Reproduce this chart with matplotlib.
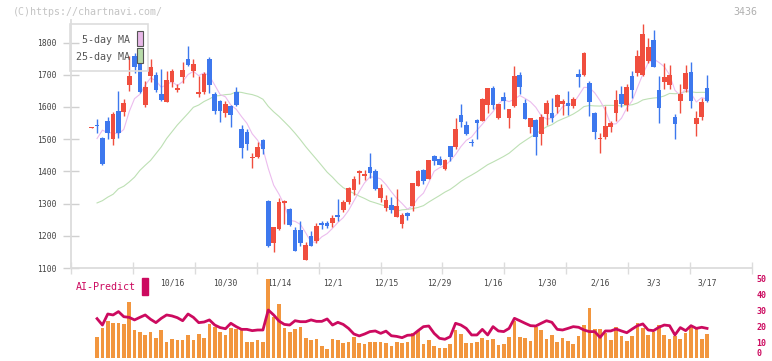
import numpy as np
import pandas as pd
import matplotlib
matplotlib.use("Agg")
import matplotlib.pyplot as plt
from matplotlib.patches import Rectangle

plt.rcParams['font.family'] = ['DejaVu Sans Mono']

# daily candles (index 0 = first day shown)
opens = [1536, 1543, 1505, 1557, 1499, 1587, 1585, 1669, 1759, 1752,
         1606, 1695, 1700, 1641, 1614, 1679, 1653, 1692, 1750, 1713,
         1641, 1648, 1750, 1641, 1617, 1582, 1603, 1646, 1531, 1521,
         1441, 1445, 1498, 1309, 1179, 1221, 1302, 1284, 1219, 1219,
         1125, 1200, 1184, 1241, 1241, 1241, 1266, 1280, 1304, 1341,
         1395, 1387, 1413, 1400, 1317, 1287, 1297, 1257, 1237, 1270,
         1291, 1356, 1403, 1375, 1447, 1437, 1408, 1479, 1476, 1575,
         1544, 1492, 1559, 1557, 1606, 1658, 1567, 1630, 1567, 1604,
         1700, 1612, 1537, 1559, 1516, 1578, 1580, 1599, 1608, 1612,
         1603, 1703, 1698, 1674, 1580, 1499, 1507, 1538, 1582, 1641,
         1606, 1695, 1705, 1698, 1744, 1809, 1653, 1676, 1667, 1570,
         1617, 1656, 1708, 1547, 1570, 1658]
closes = [1538, 1541, 1422, 1520, 1578, 1520, 1612, 1695, 1724, 1645,
          1663, 1723, 1653, 1622, 1684, 1712, 1660, 1716, 1731, 1734,
          1645, 1703, 1669, 1588, 1588, 1609, 1575, 1606, 1473, 1484,
          1445, 1476, 1471, 1169, 1226, 1304, 1309, 1232, 1153, 1179,
          1172, 1167, 1231, 1235, 1229, 1254, 1257, 1306, 1348, 1377,
          1400, 1393, 1395, 1346, 1349, 1312, 1281, 1294, 1266, 1260,
          1365, 1401, 1370, 1434, 1432, 1419, 1434, 1445, 1533, 1554,
          1515, 1487, 1551, 1625, 1658, 1606, 1608, 1617, 1593, 1697,
          1663, 1562, 1565, 1507, 1568, 1612, 1567, 1638, 1619, 1603,
          1625, 1692, 1766, 1614, 1523, 1504, 1541, 1549, 1622, 1609,
          1662, 1653, 1757, 1828, 1785, 1723, 1598, 1692, 1700, 1546,
          1641, 1705, 1620, 1565, 1615, 1617]
highs = [1538, 1563, 1507, 1569, 1585, 1650, 1624, 1758, 1769, 1760,
         1682, 1749, 1707, 1718, 1713, 1717, 1670, 1739, 1790, 1749,
         1697, 1710, 1754, 1648, 1622, 1617, 1606, 1663, 1544, 1533,
         1457, 1492, 1502, 1310, 1228, 1317, 1310, 1287, 1226, 1247,
         1181, 1214, 1241, 1247, 1247, 1266, 1315, 1312, 1353, 1387,
         1403, 1403, 1457, 1408, 1362, 1327, 1320, 1346, 1270, 1275,
         1365, 1405, 1408, 1434, 1450, 1447, 1437, 1479, 1565, 1609,
         1557, 1499, 1562, 1627, 1660, 1666, 1610, 1645, 1595, 1726,
         1707, 1625, 1567, 1562, 1578, 1622, 1627, 1640, 1625, 1650,
         1630, 1718, 1770, 1681, 1585, 1520, 1603, 1556, 1653, 1666,
         1672, 1712, 1776, 1859, 1815, 1838, 1697, 1737, 1731, 1578,
         1672, 1731, 1740, 1587, 1627, 1700]
lows = [1536, 1518, 1420, 1500, 1481, 1505, 1573, 1650, 1706, 1643,
        1599, 1679, 1648, 1619, 1614, 1663, 1648, 1674, 1726, 1693,
        1630, 1641, 1643, 1577, 1554, 1570, 1538, 1604, 1440, 1466,
        1412, 1440, 1455, 1166, 1151, 1218, 1238, 1231, 1153, 1167,
        1125, 1167, 1179, 1221, 1223, 1226, 1245, 1273, 1299, 1328,
        1362, 1374, 1380, 1343, 1304, 1278, 1270, 1257, 1223, 1249,
        1276, 1356, 1362, 1375, 1419, 1419, 1405, 1432, 1471, 1538,
        1512, 1478, 1502, 1555, 1582, 1593, 1562, 1593, 1535, 1599,
        1640, 1562, 1520, 1450, 1481, 1544, 1554, 1582, 1575, 1575,
        1596, 1663, 1695, 1572, 1502, 1457, 1502, 1523, 1557, 1599,
        1588, 1627, 1695, 1697, 1737, 1723, 1551, 1656, 1656, 1499,
        1582, 1648, 1598, 1509, 1559, 1614]

ma5_head = [1502, 1528, 1520]
ma25_head = [1302, 1309, 1320, 1329, 1346, 1354, 1367, 1382, 1403, 1419,
             1434, 1455, 1476, 1502, 1523, 1544, 1562, 1580, 1599, 1606,
             1617, 1625, 1634]

# AI-Predict panel, days 1..115
volume = [13.1, 18.8, 23.1, 22.1, 22.1, 21.5, 35.0, 17.5, 16.5, 14.4,
          16.5, 12.5, 17.5, 10.2, 11.9, 11.3, 11.3, 14.4, 11.3, 15.2,
          12.5, 21.3, 19.6, 16.5, 14.4, 19.0, 18.1, 19.0, 10.2, 10.2,
          11.3, 10.2, 49.4, 25.8, 34.0, 18.8, 16.5, 18.1, 19.4, 12.5,
          11.3, 11.9, 7.5, 5.6, 11.9, 11.3, 9.4, 10.2, 13.1, 9.4,
          8.8, 10.2, 10.2, 10.2, 9.4, 7.8, 10.2, 9.4, 10.2, 15.6,
          16.9, 8.8, 11.3, 7.5, 6.3, 6.3, 8.8, 17.5, 15.0, 9.4,
          9.4, 10.2, 12.5, 11.3, 11.9, 8.1, 8.8, 13.1, 23.1, 13.1,
          12.5, 10.6, 19.6, 17.5, 11.9, 14.4, 10.0, 12.5, 10.6, 8.8,
          13.8, 20.6, 31.3, 18.1, 18.1, 15.6, 11.3, 19.4, 13.8, 10.6,
          13.8, 21.9, 18.8, 14.4, 16.3, 20.6, 14.4, 11.9, 13.8, 11.9,
          15.6, 19.4, 18.1, 11.9, 15.0]
ai_line = [24.6, 20.6, 27.5, 26.9, 29.0, 25.8, 25.4, 23.8, 25.4, 26.9,
           24.2, 22.1, 24.8, 26.9, 26.3, 25.2, 23.3, 27.5, 25.4, 22.1,
           22.5, 23.8, 20.6, 19.0, 18.3, 21.7, 19.6, 17.9, 17.9, 17.1,
           17.5, 17.5, 30.0, 26.9, 23.1, 21.0, 20.6, 23.3, 22.7, 22.7,
           23.8, 22.9, 22.9, 24.4, 20.6, 22.3, 21.0, 18.5, 15.0, 13.8,
           15.0, 16.5, 16.9, 15.4, 16.8, 13.9, 13.5, 12.7, 14.2, 14.4,
           17.1, 19.6, 20.0, 15.4, 12.3, 11.7, 13.3, 21.7, 20.6, 18.5,
           14.4, 14.4, 17.9, 14.4, 19.6, 16.9, 16.5, 18.5, 24.8, 23.3,
           21.7, 20.2, 20.0, 21.7, 23.3, 22.3, 17.9, 17.5, 18.5, 19.6,
           19.2, 17.5, 16.5, 16.5, 12.9, 16.9, 16.9, 18.1, 16.9, 15.8,
           18.1, 20.2, 21.3, 17.5, 17.1, 19.2, 20.6, 20.2, 14.4, 19.0,
           17.1, 20.2, 18.5, 19.2, 18.5]

date_labels = ['10/16', '10/30', '11/14', '12/1', '12/15', '12/29',
               '1/16', '1/30', '2/16', '3/3', '3/17']
date_pos = [15, 25, 35, 45, 55, 65, 75, 85, 95, 105, 115]

n = len(closes)
idx = np.arange(n)
o = np.array(opens, float)
c = np.array(closes, float)
h = np.array(highs, float)
l = np.array(lows, float)

ma5 = pd.Series(c).rolling(5).mean().to_numpy()
ma5[1:1 + len(ma5_head)] = ma5_head
ma25 = pd.Series(c).rolling(25).mean().to_numpy()
ma25[1:1 + len(ma25_head)] = ma25_head

RED = '#f04e3e'
BLUE = '#3d78ee'
CRIMSON = '#cc0a5f'
ORANGE = '#f2963e'

W, H = 772, 361
fig = plt.figure(figsize=(W / 100, H / 100), dpi=100)


def box(left, top, right, bottom):
    return [left / W, 1 - bottom / H, (right - left) / W, (bottom - top) / H]


x0, x1 = -3.87, 123.4

ax = fig.add_axes(box(71, 20, 752, 268))
ax.set_xlim(x0, x1)
ax.set_ylim(1100, 1870)

up = c >= o
cols = np.where(up, RED, BLUE)
ax.vlines(idx, l, h, colors=cols, lw=1, zorder=3)
body_lo = np.minimum(o, c)
body_h = np.maximum(np.abs(c - o), 3)
ax.bar(idx, body_h, bottom=body_lo, width=0.88, color=cols, zorder=4)

ax.plot(idx, ma25, color='#bde0b4', lw=0.8, zorder=2)
ax.plot(idx, ma5, color='#ecbcee', lw=0.8, zorder=2)

for s in ['top', 'right']:
    ax.spines[s].set_visible(False)
for s in ['left', 'bottom']:
    ax.spines[s].set_color('#dcdcdc')
    ax.spines[s].set_linewidth(1.3)

ax.set_yticks(range(1100, 1801, 100))
ax.tick_params(axis='y', direction='inout', length=11, width=1, color='#d0d0d0',
               labelsize=5.8, labelcolor='#444444', pad=5)
ax.set_xticks(np.linspace(x0, x1, 12))
ax.set_xticklabels([])
ax.tick_params(axis='x', direction='inout', length=8, width=1, color='#dcdcdc')

# lower panel
ax2 = fig.add_axes(box(71, 278, 752, 358))
ax2.set_xlim(x0, x1)
ax2.set_ylim(0, 50)
days = idx[1:]
ax2.bar(days, volume, width=0.68, color=ORANGE, zorder=2)
ax2.plot(days, ai_line, color=CRIMSON, lw=2, zorder=3)
for p, t in zip(date_pos, date_labels):
    ax2.text(p, 46.8, t, ha='center', va='center', fontsize=5.8,
             color='#444444', zorder=1)
for s in ax2.spines.values():
    s.set_visible(False)
ax2.set_xticks([])
ax2.yaxis.tick_right()
ax2.set_yticks(range(0, 51, 10))
ax2.tick_params(axis='y', length=0, pad=3, labelsize=6, labelcolor=CRIMSON)
for t in ax2.get_yticklabels():
    t.set_fontweight('bold')
    t.set_verticalalignment('center_baseline')
ax2.get_yticklabels()[0].set_verticalalignment('bottom')

fig.text(76 / W, 1 - 287 / H, 'AI-Predict', fontsize=7.2, color=CRIMSON,
         va='center', ha='left')
fig.patches.append(Rectangle((142 / W, 1 - 295 / H), 6 / W, 17 / H,
                             transform=fig.transFigure, color=CRIMSON))

# legend
fig.patches.append(Rectangle((70 / W, 1 - 71 / H), 78 / W, 47 / H,
                             transform=fig.transFigure, facecolor='none',
                             edgecolor='#dddddd', lw=1.2))
fig.text(130 / W, 1 - 40 / H, '5-day MA', fontsize=7.2, color='#555555',
         ha='right', va='center')
fig.text(130 / W, 1 - 57 / H, '25-day MA', fontsize=7.2, color='#555555',
         ha='right', va='center')
fig.patches.append(Rectangle((137 / W, 1 - 46 / H), 6 / W, 15 / H,
                             transform=fig.transFigure, facecolor='#e8b8e8',
                             edgecolor='#555555', lw=0.8))
fig.patches.append(Rectangle((137 / W, 1 - 63 / H), 6 / W, 15 / H,
                             transform=fig.transFigure, facecolor='#b8dcaa',
                             edgecolor='#555555', lw=0.8))

fig.text(13 / W, 1 - 12 / H, '(C)https://chartnavi.com/', fontsize=7.2,
         color='#c4c4c4', va='center')
fig.text(757 / W, 1 - 12 / H, '3436', fontsize=7.2, color='#b0b0b0',
         va='center', ha='right')

fig.savefig('out.png', dpi=100)
